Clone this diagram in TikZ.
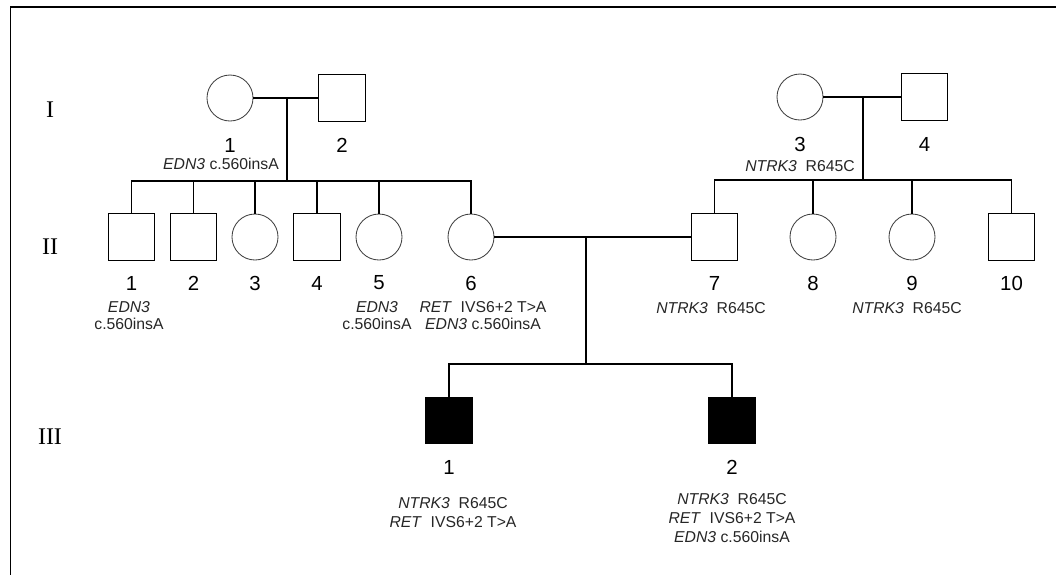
\documentclass[tikz,border=0pt]{standalone}
\usepackage{fontspec}
\setmainfont{Liberation Sans}
\newfontfamily\genfont{Liberation Serif}
\usetikzlibrary{positioning}

\begin{document}
\begin{tikzpicture}[x=0.025cm, y=-0.025cm,
    male/.style={draw, rectangle, minimum size=1.17cm, inner sep=0pt, line width=0.7pt},
    female/.style={draw=black!75, circle, minimum size=1.15cm, inner sep=0pt, line width=0.6pt},
    affected/.style={male, fill=black},
    idnum/.style={inner sep=0pt, font=\fontsize{14.5}{16}\selectfont},
    geno/.style={inner sep=0pt, align=center, text=black!85, font=\fontsize{11.2}{12.3}\selectfont},
    gen/.style={inner sep=0pt, font=\genfont\fontsize{17}{20}\selectfont},
    line/.style={line width=1.3pt},
    frame/.style={line width=1.4pt}]
    \useasboundingbox (0,0) rectangle (1056,575);
    \draw[frame] (1056,7) -- (10.5,7) -- (10.5,575);

    % Generation labels
    \node[gen] (gI) at (50,110) {I};
    \node[gen] (gII) at (50,247) {II};
    \node[gen] (gIII) at (50,437) {III};

    % Generation I
    \node[female] (i1) at (230,98) {};
    \node[male] (i2) at (342,98) {};
    \node[female] (i3) at (800,97) {};
    \node[male] (i4) at (924.5,97) {};
    \node[idnum, below=0.41cm of i1] (n-i1) {1};
    \node[idnum, below=0.41cm of i2] (n-i2) {2};
    \node[idnum, below=0.41cm of i3] (n-i3) {3};
    \node[idnum, below=0.41cm of i4] (n-i4) {4};
    \node[geno] (g-i1) at (221,164) {\textit{EDN3} c.560insA};
    \node[geno] (g-i3) at (800,166) {\textit{NTRK3}\ \ R645C};

    % Generation II
    \node[male] (ii1) at (131.5,237) {};
    \node[male] (ii2) at (193.5,237) {};
    \node[female] (ii3) at (255,237) {};
    \node[male] (ii4) at (317,237) {};
    \node[female] (ii5) at (379,237) {};
    \node[female] (ii6) at (471,237) {};
    \node[male] (ii7) at (714.5,237) {};
    \node[female] (ii8) at (813,237) {};
    \node[female] (ii9) at (912,237) {};
    \node[male] (ii10) at (1011.5,237) {};
    \node[idnum, below=0.38cm of ii1] (n-ii1) {1};
    \node[idnum, below=0.38cm of ii2] (n-ii2) {2};
    \node[idnum, below=0.38cm of ii3] (n-ii3) {3};
    \node[idnum, below=0.38cm of ii4] (n-ii4) {4};
    \node[idnum, below=0.38cm of ii5] (n-ii5) {5};
    \node[idnum, below=0.38cm of ii6] (n-ii6) {6};
    \node[idnum, below=0.38cm of ii7] (n-ii7) {7};
    \node[idnum, below=0.38cm of ii8] (n-ii8) {8};
    \node[idnum, below=0.38cm of ii9] (n-ii9) {9};
    \node[idnum, below=0.38cm of ii10] (n-ii10) {10};
    \node[geno] (g-ii1) at (129,315.5) {\textit{EDN3}\\c.560insA};
    \node[geno] (g-ii5) at (377,315.5) {\textit{EDN3}\\c.560insA};
    \node[geno] (g-ii6) at (483,315.5) {\textit{RET}\ \ IVS6+2 T>A\\\textit{EDN3} c.560insA};
    \node[geno] (g-ii7) at (711,308) {\textit{NTRK3}\ \ R645C};
    \node[geno] (g-ii9) at (907,308) {\textit{NTRK3}\ \ R645C};

    % Generation III
    \node[affected] (iii1) at (449,420.5) {};
    \node[affected] (iii2) at (732,420.5) {};
    \node[idnum, below=0.39cm of iii1] (n-iii1) {1};
    \node[idnum, below=0.39cm of iii2] (n-iii2) {2};
    \node[geno, font=\fontsize{11.2}{13.5}\selectfont] (g-iii1) at (453,512.5) {\textit{NTRK3}\ \ R645C\\\textit{RET}\ \ IVS6+2 T>A};
    \node[geno, font=\fontsize{11.2}{13.5}\selectfont] (g-iii2) at (732,518) {\textit{NTRK3}\ \ R645C\\\textit{RET}\ \ IVS6+2 T>A\\\textit{EDN3} c.560insA};

    % Matings and sibships
    \coordinate (m1) at (287,98);
    \coordinate (s1) at (287,181);
    \coordinate (m2) at (863,97);
    \coordinate (s2) at (863,180);
    \coordinate (m3) at (586,237);
    \coordinate (s3) at (586,364);
    \draw[line] (i1) -- (i2);
    \draw[line] (i3) -- (i4);
    \draw[line] (ii6) -- (ii7);
    \draw[line] (m1) -- (s1);
    \draw[line] (m2) -- (s2);
    \draw[line] (m3) -- (s3);
    \draw[line] (ii1.north) |- (s1);
    \draw[line] (ii2.north) |- (s1);
    \draw[line] (ii3.north) |- (s1);
    \draw[line] (ii4.north) |- (s1);
    \draw[line] (ii5.north) |- (s1);
    \draw[line] (ii6.north) |- (s1);
    \draw[line] (ii7.north) |- (s2);
    \draw[line] (ii8.north) |- (s2);
    \draw[line] (ii9.north) |- (s2);
    \draw[line] (ii10.north) |- (s2);
    \draw[line] (iii1.north) |- (s3);
    \draw[line] (iii2.north) |- (s3);
\end{tikzpicture}
\end{document}
